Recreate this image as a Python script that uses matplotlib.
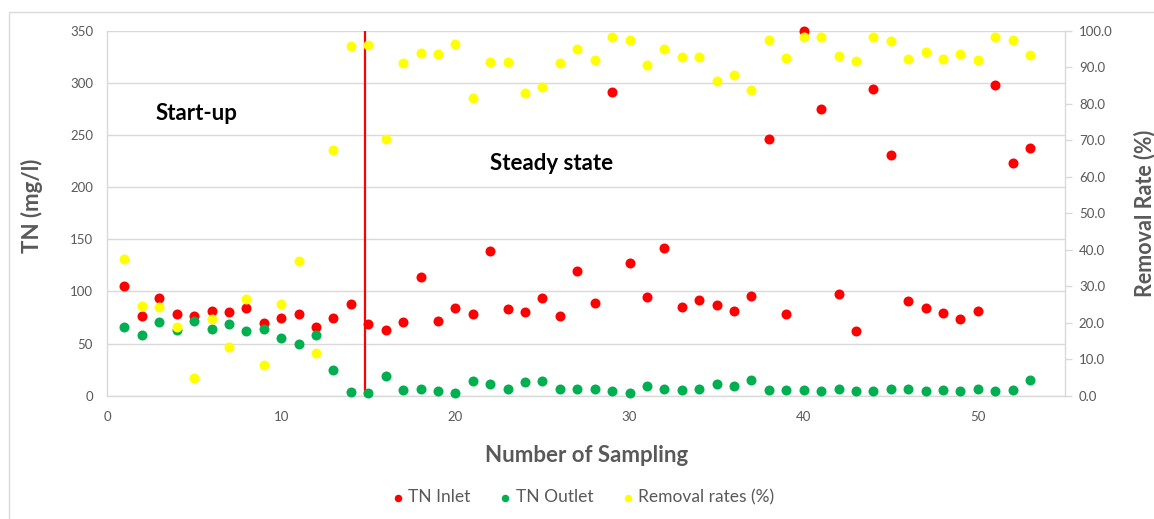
import matplotlib
matplotlib.use("Agg")
import matplotlib.pyplot as plt
from matplotlib.patches import Rectangle

plt.rcParams['font.family'] = ['Lato', 'DejaVu Sans']

sampling = list(range(1, 54))

tn_inlet = [105.7, 76.9, 93.6, 78.8, 76.3, 81.4, 80.1, 84.6, 70.2, 74.4,
            78.5, 66.0, 74.4, 88.4, 68.6, 63.4, 70.8, 113.8, 71.8, 84.0,
            78.8, 139.1, 83.3, 80.1, 93.9, 76.3, 120.1, 88.8, 291.5, 126.9,
            94.9, 141.9, 85.5, 91.7, 86.9, 81.7, 95.8, 246.4, 78.8, 350.0,
            275.2, 98.0, 61.9, 294.1, 231.3, 90.7, 84.0, 79.8, 73.7, 81.7,
            297.9, 222.9, 237.7]

tn_outlet = [66.0, 58.0, 70.5, 63.1, 72.1, 64.1, 68.9, 62.2, 63.8, 55.7,
             49.4, 58.0, 24.4, 3.6, 2.3, 18.6, 5.8, 6.4, 4.5, 2.6,
             14.1, 11.5, 6.7, 13.5, 14.1, 6.7, 6.1, 6.7, 4.2, 2.6,
             9.0, 6.4, 5.8, 6.1, 11.5, 9.6, 15.1, 5.2, 5.5, 5.2,
             4.8, 6.7, 4.8, 4.8, 6.1, 6.4, 4.5, 5.8, 4.5, 6.1,
             4.5, 5.2, 15.4]

removal_rate = [37.6, 24.5, 24.3, 18.9, 4.8, 20.9, 13.4, 26.4, 8.3, 25.1,
                37.0, 11.7, 67.5, 96.0, 96.2, 70.4, 91.3, 93.9, 93.6, 96.3,
                81.6, 91.5, 91.5, 83.1, 84.6, 91.1, 95.0, 92.1, 98.4, 97.6,
                90.6, 95.1, 92.8, 93.0, 86.4, 87.8, 83.9, 97.6, 92.6, 98.4,
                98.3, 93.1, 91.9, 98.3, 97.3, 92.4, 94.3, 92.4, 93.6, 92.0,
                98.4, 97.4, 93.3]

phase_boundary = 14.8
left_ticks = [0, 50, 100, 150, 200, 250, 300, 350]
right_ticks = [0, 10, 20, 30, 40, 50, 60, 70, 80, 90, 100]
x_ticks = [0, 10, 20, 30, 40, 50]

GREY_TXT = '#595959'
GRID = '#D9D9D9'

fig = plt.figure(figsize=(11.54, 5.19), dpi=100)
fig.patches.append(Rectangle((9 / 1154, -0.01), 1.0, 1 - 12 / 519 + 0.01,
                             transform=fig.transFigure, fill=False,
                             edgecolor=GRID, linewidth=1.0))

ax = fig.add_axes([107 / 1154, 1 - 395.7 / 519, 958 / 1154, 364.7 / 519])
ax2 = ax.twinx()

ms = 52
h1 = ax.scatter(sampling, tn_inlet, s=ms, color='#FF0000', linewidths=0,
                zorder=3, label='TN Inlet', clip_on=False)
h2 = ax.scatter(sampling, tn_outlet, s=ms, color='#00B050', linewidths=0,
                zorder=4, label='TN Outlet', clip_on=False)
h3 = ax2.scatter(sampling, removal_rate, s=ms, color='#FFFF00', linewidths=0,
                 zorder=3, label='Removal rates (%)', clip_on=False)

ax.axvline(phase_boundary, color='#FF0000', linewidth=1.6, zorder=2)

ax.set_xlim(0, 55)
ax.set_ylim(0, 350)
ax2.set_ylim(0, 100)
ax.set_xticks(x_ticks)
ax.set_yticks(left_ticks)
ax2.set_yticks(right_ticks)
ax2.set_yticklabels([f'{v:.1f}' for v in right_ticks])

ax.grid(axis='y', color=GRID, linewidth=1.0, zorder=0)
ax.set_axisbelow(True)

for a in (ax, ax2):
    a.spines['top'].set_visible(False)
    for side in ('left', 'bottom', 'right'):
        a.spines[side].set_color(GRID)
        a.spines[side].set_linewidth(1.0)
ax.spines['right'].set_visible(False)
ax2.spines['left'].set_visible(False)
ax2.spines['bottom'].set_visible(False)

ax.tick_params(axis='y', length=0, pad=10, labelsize=9.5, labelcolor=GREY_TXT)
ax.tick_params(axis='x', length=0, pad=11, labelsize=9.5, labelcolor=GREY_TXT)
ax2.tick_params(axis='y', length=5, width=1.0, color=GRID, pad=5,
                labelsize=9.5, labelcolor=GREY_TXT)

ax.set_xlabel('Number of Sampling', fontsize=16, fontweight='bold',
              color=GREY_TXT)
ax.xaxis.set_label_coords(0.501, -0.135)
ax.set_ylabel('TN (mg/l)', fontsize=16, fontweight='bold', color=GREY_TXT)
ax.yaxis.set_label_coords(-0.067, 0.52)
ax2.set_ylabel('Removal Rate (%)', fontsize=15.5, fontweight='bold',
               color=GREY_TXT)
ax2.yaxis.set_label_coords(1.072, 0.5)

ax.text(2.8, 270.7, 'Start-up', fontsize=16, fontweight='bold',
        color='black', va='center', ha='left')
ax.text(22.0, 222.7, 'Steady state', fontsize=16, fontweight='bold',
        color='black', va='center', ha='left')

leg = fig.legend(handles=[h1, h2, h3], loc='center',
                 bbox_to_anchor=(582 / 1154, 1 - 497 / 519), ncol=3,
                 frameon=False, fontsize=12.5, markerscale=0.75,
                 handletextpad=0.1, columnspacing=1.5, handlelength=1.0)
for t in leg.get_texts():
    t.set_color(GREY_TXT)

fig.savefig('out.png', dpi=100)
